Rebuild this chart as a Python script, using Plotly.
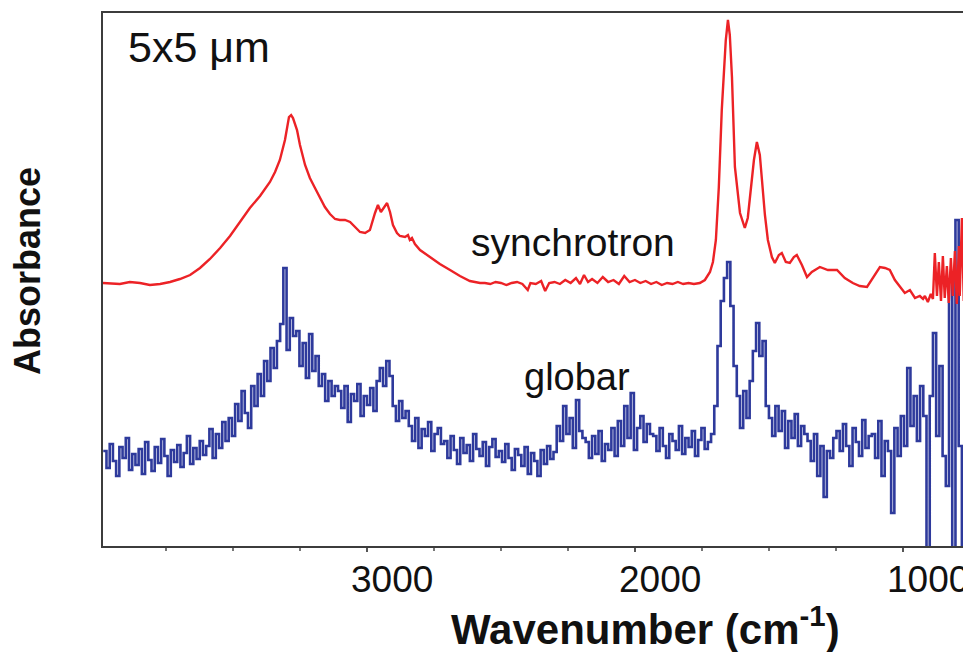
import plotly.graph_objects as go

# ---------------- data ----------------
# synchrotron spectrum (wavenumber cm-1, absorbance a.u.)
sync_wn = [3985, 3922, 3885, 3847, 3810, 3772, 3735, 3698, 3660, 3623, 3586, 3548, 3511, 3474,
           3437, 3399, 3362, 3343, 3325, 3306, 3291, 3283, 3276, 3261, 3250, 3231, 3213, 3194,
           3175, 3157, 3138, 3119, 3101, 3082, 3063, 3045, 3026, 3007, 2989, 2970, 2959, 2948,
           2937, 2925, 2914, 2903, 2888, 2877, 2858, 2847, 2840, 2832, 2821, 2802, 2765, 2728,
           2690, 2653, 2616, 2578,
           2560, 2540, 2520, 2500, 2480, 2460, 2440, 2420, 2400, 2390, 2370, 2350, 2335, 2320,
           2300, 2280, 2260, 2240, 2220, 2205, 2190, 2175, 2160, 2140, 2120, 2100, 2080, 2060,
           2040, 2020, 2000, 1980, 1960, 1940, 1920, 1900, 1880, 1860, 1840, 1820, 1800, 1780,
           1758, 1739, 1720, 1709, 1698, 1687, 1676, 1661, 1653, 1646, 1638, 1627, 1608, 1590,
           1579, 1571, 1556, 1545, 1534, 1526, 1515, 1504, 1489, 1478, 1463, 1452, 1437, 1422,
           1407, 1396, 1377, 1358, 1340, 1310, 1280, 1246, 1217, 1187, 1161, 1134, 1112, 1086,
           1067, 1049, 1030, 1011, 993, 974, 955, 937, 925,
           918, 907, 896, 888, 881, 873, 866, 858, 851, 844, 836, 829, 821, 814, 806, 799,
           791, 788, 780, 773, 765, 762, 758, 754, 747]
sync_abs = [263, 262, 264, 263, 261, 262, 264, 267, 271, 278, 287, 298, 310, 324,
            338, 350, 364, 374, 386, 406, 429, 431, 428, 416, 401, 381, 368, 358,
            348, 339, 332, 327, 326, 326, 324, 319, 314, 313, 316, 333, 341, 334,
            339, 343, 334, 321, 313, 310, 309, 311, 306, 308, 302, 296, 289, 282,
            276, 270, 265, 263,
            263, 262, 264, 263, 261, 263, 264, 262, 256, 263, 262, 265, 255, 263,
            264, 262, 266, 263, 268, 262, 271, 264, 267, 263, 269, 264, 266, 262,
            270, 264, 266, 263, 265, 262, 264, 261, 263, 262, 264, 262, 263, 262,
            263, 266, 274, 284, 306, 359, 436, 506, 526, 511, 469, 379, 333, 318,
            328, 346, 386, 404, 391, 366, 331, 306, 289, 283, 291, 293, 284, 283,
            289, 291, 281, 269, 274, 279, 276, 276, 268, 263, 260, 259, 268, 279,
            278, 276, 266, 259, 253, 256, 248, 250, 247,
            250, 244, 252, 247, 293, 250, 284, 245, 290, 248, 280, 243, 288, 250, 295, 242,
            300, 250, 328, 245, 296, 449, 449, 206, 236]

# globar spectrum, sampled every 12 cm-1 from 3984 cm-1
globar_start = 3984
globar_step = 12
globar_abs = [95, 78, 102, 85, 70, 99, 88, 108, 76, 92, 81, 97, 72, 104, 86, 75, 99, 83, 107, 90,
              70, 96, 84, 101, 79, 93, 110, 82, 98, 87, 105, 91,
              100, 117, 88, 112, 98, 124, 105,
              128, 110, 142, 125, 155, 133, 118, 160, 140,
              172, 150, 185, 165, 198, 178,
              205, 222, 278, 196, 228, 210,
              215, 180, 203, 168, 212, 175, 190, 160,
              172, 145, 165, 150, 160,
              155, 138, 160, 124, 152, 145, 162, 130, 150, 141, 158, 135,
              165, 178, 160, 185, 170,
              140, 125, 145, 128, 135,
              120, 105, 128, 98, 117, 110, 124, 95, 112, 118, 102,
              105, 88, 110, 96, 82, 108, 93, 101, 85, 112, 97, 90, 104, 80, 99, 107, 89,
              95, 84, 102, 88, 76, 97, 91, 80, 99, 72, 93, 85, 70, 96, 82, 100, 87, 94,
              120, 105, 140, 112, 128, 98, 146, 115, 108,
              104, 88, 110, 92, 115, 85, 102, 96, 118, 90,
              125, 100, 140, 108, 153, 96, 118, 130, 104, 122, 112,
              110, 95, 118, 100, 88, 112, 105, 96, 120, 92, 108, 99, 115, 90, 106, 118, 97, 104, 112,
              140, 200, 245, 268, 284, 240, 180, 150, 118, 155, 128,
              165, 195, 223, 190, 205, 140,
              128, 110, 140, 115, 135, 98, 125, 108, 132, 100, 120, 112,
              105, 85, 112, 70, 100, 49, 95, 88, 108,
              115, 95, 122, 100, 80, 118, 104, 90, 126, 98, 110,
              112, 88, 125, 70, 105, 95, 33, 118, 90, 130, 100,
              178, 120, 150, 105, 160, 130, -20,
              150, 213, 110, 180, 90,
              60, 266, -30, 326, 100, -40, 200, -30, 180]
globar_wn = [globar_start - globar_step * i for i in range(len(globar_abs))]

x_tickvals = [1000, 2000, 3000]
x_ticktext = ["1000", "2000", "3000"]

# ---------------- figure ----------------
fig = go.Figure()
fig.add_trace(go.Scatter(x=globar_wn, y=globar_abs, mode="lines",
                         line=dict(color="#2e3a9c", width=2.6, shape="hv"), name="globar"))
fig.add_trace(go.Scatter(x=sync_wn, y=sync_abs, mode="lines",
                         line=dict(color="#ec2226", width=2.4), name="synchrotron"))

axis_col = "#3c3c3c"
fig.update_layout(
    width=963, height=644,
    margin=dict(l=95, r=0, t=5, b=106),
    paper_bgcolor="white", plot_bgcolor="white",
    showlegend=False,
    font=dict(family="Liberation Sans, Arial, sans-serif", color="black"),
    xaxis=dict(
        range=[3985, 746], showgrid=False, zeroline=False,
        showline=True, mirror=True, linecolor=axis_col, linewidth=2,
        tickmode="array", tickvals=x_tickvals,
        ticks="outside", ticklen=4, tickwidth=2, tickcolor="#555555",
        minor=dict(dtick=250, tick0=0, ticks="outside", ticklen=3, tickwidth=1.5,
                   tickcolor="#777777", showgrid=False),
        showticklabels=False,
    ),
    yaxis=dict(
        range=[0, 533], showgrid=False, zeroline=False,
        showline=True, linecolor=axis_col, linewidth=2,
        showticklabels=False, ticks="",
    ),
)

ann_font = dict(family="Liberation Sans, Arial, sans-serif", color="#111111")
for v, t in zip(x_tickvals, x_ticktext):
    fig.add_annotation(text=t, xref="x", yref="paper", x=v, y=-0.062, xshift=25,
                       xanchor="center", yanchor="middle", showarrow=False,
                       font=dict(size=37, **ann_font))
fig.add_annotation(text="<b>Wavenumber (cm<sup>-1</sup>)</b>", xref="paper", yref="paper",
                   x=0.625, y=-0.150, xanchor="center", yanchor="middle", showarrow=False,
                   font=dict(size=42, **ann_font))
fig.add_annotation(text="<b>Absorbance</b>", xref="paper", yref="paper", textangle=-90,
                   x=-0.087, y=0.517, xanchor="center", yanchor="middle", showarrow=False,
                   font=dict(size=36, **ann_font))
fig.add_annotation(text="5x5 μm", xref="paper", yref="paper",
                   x=0.027, y=0.936, xanchor="left", yanchor="middle", showarrow=False,
                   font=dict(size=43, **ann_font))
fig.add_annotation(text="synchrotron", xref="paper", yref="paper",
                   x=0.5415, y=0.5685, xanchor="center", yanchor="middle", showarrow=False,
                   font=dict(size=39, **ann_font))
fig.add_annotation(text="globar", xref="paper", yref="paper",
                   x=0.546, y=0.317, xanchor="center", yanchor="middle", showarrow=False,
                   font=dict(size=38, **ann_font))

fig.write_html("out.html")
